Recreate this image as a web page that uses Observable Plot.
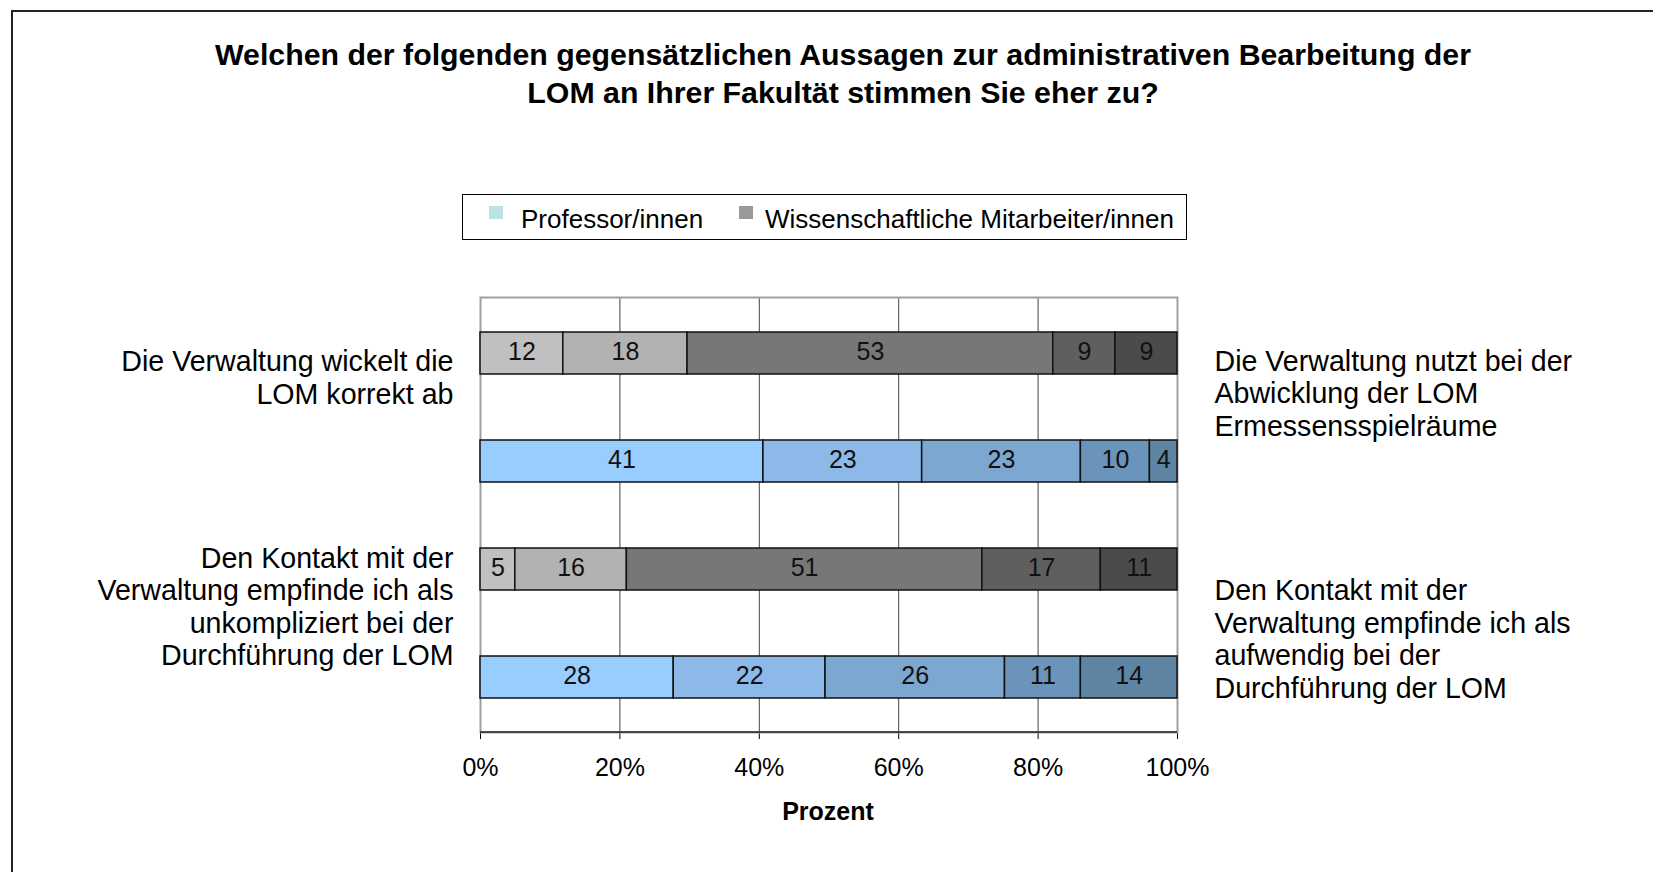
<!DOCTYPE html>
<html>
<head>
<meta charset="utf-8">
<script src="https://cdn.jsdelivr.net/npm/d3@7"></script>
<script src="https://cdn.jsdelivr.net/npm/@observablehq/plot@0.6"></script>
<style>
  html, body { margin: 0; padding: 0; background: #fff; }
  #page { position: relative; width: 1653px; height: 872px; overflow: hidden; background: #fff;
          font-family: Arial, "Liberation Sans", sans-serif; color: #000; }
  #border { position: absolute; left: 11px; top: 10px; width: 1700px; height: 900px;
            border: 2px solid #222; box-sizing: border-box; }
  #title { position: absolute; left: 843px; top: 36px; transform: translateX(-50%);
           font-weight: bold; font-size: 30.3px; line-height: 38px; text-align: center; white-space: nowrap; }
  #legend { position: absolute; left: 462px; top: 194px; width: 725px; height: 46px;
            border: 1.5px solid #000; box-sizing: border-box; }
  .sw { position: absolute; top: 11px; width: 14px; height: 13px; }
  .lt { position: absolute; top: 1px; font-size: 26px; line-height: 46px; white-space: nowrap; }
  #xlabel { position: absolute; left: 828px; top: 796px; transform: translateX(-50%);
            font-weight: bold; font-size: 25px; line-height: 30px; white-space: nowrap; }
  #chart { position: absolute; left: 0; top: 0; }
</style>
</head>
<body>
<div id="page">
  <div id="border"></div>
  <div id="chart"></div>
  <div id="title"></div>
  <div id="legend"></div>
  <div id="xlabel"></div>
</div>
<script>
// ---- data ----
const titleLines = ["Welchen der folgenden gegensätzlichen Aussagen zur administrativen Bearbeitung der",
                    "LOM an Ihrer Fakultät stimmen Sie eher zu?"];
const questions = ["Verwaltung", "Kontakt"];
const groups = ["Professor/innen", "Wissenschaftliche Mitarbeiter/innen"];
const wissMitarbeiter = [[12, 18, 53, 9, 9], [5, 16, 51, 17, 11]];
const professoren = [[41, 23, 23, 10, 4], [28, 22, 26, 11, 14]];
const leftLabels = ["Die Verwaltung wickelt die\nLOM korrekt ab",
                    "Den Kontakt mit der\nVerwaltung empfinde ich als\nunkompliziert bei der\nDurchführung der LOM"];
const rightLabels = ["Die Verwaltung nutzt bei der\nAbwicklung der LOM\nErmessensspielräume",
                     "Den Kontakt mit der\nVerwaltung empfinde ich als\naufwendig bei der\nDurchführung der LOM"];
const xLabel = "Prozent";

// ---- styles ----
const grayShades = ["#c0c0c0", "#b2b2b2", "#777777", "#5f5f5f", "#4b4b4b"];
const blueShades = ["#99ccff", "#8db9e8", "#7ba7d1", "#6b94ba", "#5f85a5"];
const legendSwatch = ["#bde2e8", "#999999"];
const leftDy = [23.5, 36.5];
const rightDy = [39.5, 69];

// ---- table ----
const rows = [];
const data = [];
questions.forEach((q, qi) => {
  [["W", wissMitarbeiter[qi]], ["P", professoren[qi]]].forEach(([g, vals]) => {
    const row = q + "|" + g;
    rows.push(row);
    vals.forEach((v, i) => data.push({row, group: g, i, value: v}));
  });
});
const fillOf = d => (d.group === "W" ? grayShades : blueShades)[d.i];

const sideMarks = [];
questions.forEach((q, qi) => {
  sideMarks.push(Plot.text([{x: 0, row: q + "|W", t: leftLabels[qi]}], {
    x: "x", y: "row", text: "t", textAnchor: "end", dx: -27, dy: leftDy[qi],
    fontSize: 28.6, lineHeight: 1.14, fill: "#000"
  }));
  sideMarks.push(Plot.text([{x: 1, row: q + "|W", t: rightLabels[qi]}], {
    x: "x", y: "row", text: "t", textAnchor: "start", dx: 37, dy: rightDy[qi],
    fontSize: 28.6, lineHeight: 1.14, fill: "#000"
  }));
});

const chart = Plot.plot({
  width: 1653,
  height: 872,
  marginTop: 297,
  marginBottom: 140,
  marginLeft: 480,
  marginRight: 476,
  style: {fontFamily: "Arial, 'Liberation Sans', sans-serif", fontSize: "25px", color: "#000",
          background: "transparent", overflow: "visible"},
  x: {domain: [0, 1], ticks: 5, tickFormat: d3.format(".0%"), tickSize: 7, tickPadding: 19, label: null},
  y: {domain: rows, paddingInner: 0.614, paddingOuter: 0.307, axis: null},
  marks: [
    Plot.ruleX([0.2, 0.4, 0.6, 0.8], {stroke: "#444", strokeWidth: 1}),
    Plot.frame({stroke: "#a0a0a0", strokeWidth: 2}),
    Plot.barX(data, {x: "value", y: "row", fill: fillOf, stroke: "#111", strokeWidth: 1.5,
                     offset: "normalize", order: null}),
    Plot.text(data, Plot.stackX({x: "value", y: "row", text: d => String(d.value), dy: -2,
                     offset: "normalize", order: null, fill: "#111", fontSize: 25})),
    ...sideMarks
  ]
});
document.getElementById("chart").appendChild(chart);

// dark bottom axis line
const svg = d3.select(chart);
svg.append("line")
  .attr("x1", 480).attr("x2", 1653 - 476)
  .attr("y1", 872 - 140).attr("y2", 872 - 140)
  .attr("stroke", "#222").attr("stroke-width", 1.5);

// title
document.getElementById("title").innerHTML = titleLines.join("<br>");
document.getElementById("xlabel").textContent = xLabel;

// legend
const lg = document.getElementById("legend");
const swX = [26, 276];
const txX = [58, 302];
groups.forEach((g, i) => {
  const s = document.createElement("div");
  s.className = "sw"; s.style.left = swX[i] + "px"; s.style.background = legendSwatch[i];
  lg.appendChild(s);
  const t = document.createElement("div");
  t.className = "lt"; t.style.left = txX[i] + "px"; t.textContent = g;
  lg.appendChild(t);
});
</script>
</body>
</html>
